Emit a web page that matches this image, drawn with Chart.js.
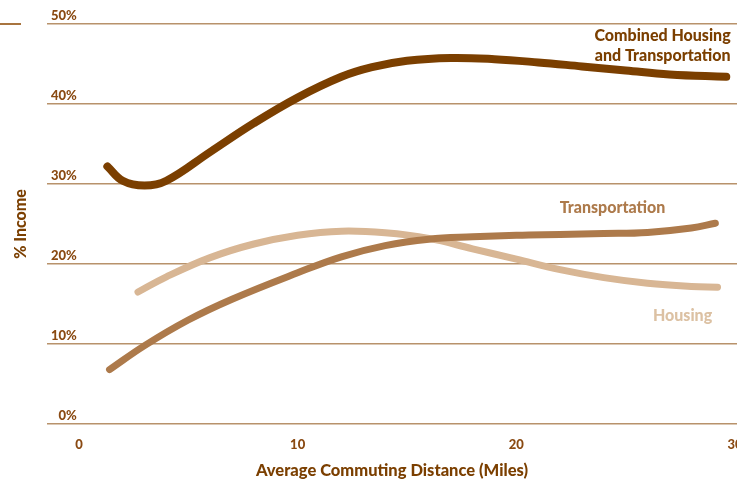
<!DOCTYPE html>
<html>
<head>
<meta charset="utf-8">
<script src="https://cdn.jsdelivr.net/npm/chart.js@4.4.1/dist/chart.umd.min.js"></script>
<style>
  html, body { margin: 0; padding: 0; background: #fff; overflow: hidden; }
  #wrap { position: relative; width: 737px; height: 482px; }
  #rule { position: absolute; left: 0; top: 23px; width: 21px; height: 1.5px; background: #a8743f; }
</style>
</head>
<body>
<div id="wrap">
  <div id="rule"></div>
  <canvas id="chart" width="737" height="482"></canvas>
</div>
<script>
/* Values (miles vs % of income). */
const combinedMiles = [1.3, 2, 3, 4, 6, 8, 10, 12, 13.4, 15, 17, 19, 21, 23, 25, 27, 29.6];
const combinedPct   = [32.2, 30.4, 29.8, 30.4, 34.0, 37.6, 40.8, 43.4, 44.6, 45.4, 45.75, 45.6, 45.2, 44.7, 44.2, 43.7, 43.4];

const transportMiles = [1.4, 3, 5, 7, 10, 12, 14, 16, 18, 20, 22, 24, 26, 28, 29.1];
const transportPct   = [6.8, 9.8, 13.0, 15.6, 18.9, 20.9, 22.3, 23.1, 23.4, 23.6, 23.7, 23.8, 23.95, 24.5, 25.1];

const housingMiles = [2.7, 4, 6, 8, 10, 12, 14, 16, 18, 20, 22, 24, 26, 28, 29.2];
const housingPct   = [16.5, 18.4, 20.8, 22.5, 23.6, 24.1, 23.9, 23.2, 21.9, 20.6, 19.3, 18.3, 17.6, 17.2, 17.1];

const xTicks = [0, 10, 20, 30];
const yTicks = [0, 10, 20, 30, 40, 50];

const DARK = '#7b3f00';
const MID = '#ad7a4b';
const LIGHT = '#d8b694';
const GRID = '#b8926b';

const toPoints = (xs, ys) => xs.map((x, i) => ({ x, y: ys[i] }));

/* Series names written next to the lines, placed in data units. */
const seriesLabels = {
  id: 'seriesLabels',
  afterDatasetsDraw(chart) {
    const { ctx, scales: { x, y } } = chart;
    const items = [
      { text: 'Combined Housing', mx: 29.8, py: 48.5, color: DARK, align: 'right' },
      { text: 'and Transportation', mx: 29.8, py: 46.0, color: DARK, align: 'right' },
      { text: 'Transportation', mx: 24.4, py: 27.0, color: MID, align: 'center' },
      { text: 'Housing', mx: 27.6, py: 13.5, color: '#dcc1a3', align: 'center' },
    ];
    ctx.save();
    ctx.font = '900 16px Lato';
    ctx.textBaseline = 'middle';
    items.forEach((it) => {
      ctx.fillStyle = it.color;
      ctx.textAlign = it.align;
      ctx.fillText(it.text, x.getPixelForValue(it.mx), y.getPixelForValue(it.py));
    });
    ctx.restore();
  },
};

Chart.defaults.font.family = 'Lato';

const lineStyle = (color, width) => ({
  borderColor: color,
  borderWidth: width,
  borderCapStyle: 'round',
  borderJoinStyle: 'round',
  pointRadius: 0,
  tension: 0.4,
  fill: false,
  clip: false,
});

new Chart(document.getElementById('chart'), {
  type: 'line',
  data: {
    datasets: [
      { label: 'Combined Housing and Transportation', data: toPoints(combinedMiles, combinedPct), ...lineStyle(DARK, 8) },
      { label: 'Transportation', data: toPoints(transportMiles, transportPct), ...lineStyle(MID, 7) },
      { label: 'Housing', data: toPoints(housingMiles, housingPct), ...lineStyle(LIGHT, 7) },
    ],
  },
  options: {
    responsive: false,
    animation: false,
    events: [],
    layout: { padding: { top: 24, right: 0, bottom: 0, left: 0 } },
    plugins: { legend: { display: false }, tooltip: { enabled: false } },
    scales: {
      x: {
        type: 'linear',
        min: -1.46,
        max: 30.09,
        afterBuildTicks: (s) => { s.ticks = xTicks.map((v) => ({ value: v })); },
        afterFit: (s) => { s.height = 58; s.paddingLeft = 0; s.paddingRight = 0; },
        grid: { display: false },
        border: { display: false },
        ticks: {
          color: '#8a4a12',
          font: { size: 13, weight: '900' },
          padding: 5,
          maxRotation: 0,
          autoSkip: false,
        },
        title: {
          display: true,
          text: 'Average Commuting Distance (Miles)',
          color: DARK,
          font: { size: 16.5, weight: '900' },
          padding: { top: 0, bottom: 1 },
        },
      },
      y: {
        min: 0,
        max: 50,
        afterBuildTicks: (s) => { s.ticks = yTicks.map((v) => ({ value: v })); },
        afterFit: (s) => { s.width = 47; s.paddingTop = 0; s.paddingBottom = 0; },
        grid: { color: GRID, lineWidth: 1.5, drawTicks: false },
        border: { display: false },
        ticks: {
          mirror: true,
          crossAlign: 'far',
          padding: 4,
          labelOffset: -8,
          color: '#8a4a12',
          font: { size: 13, weight: '900' },
          callback: (v) => v + '%',
        },
        title: {
          display: true,
          text: '% Income',
          color: DARK,
          font: { size: 16, weight: '900' },
          padding: { top: 11, bottom: 0 },
        },
      },
    },
  },
  plugins: [seriesLabels],
});
</script>
</body>
</html>
